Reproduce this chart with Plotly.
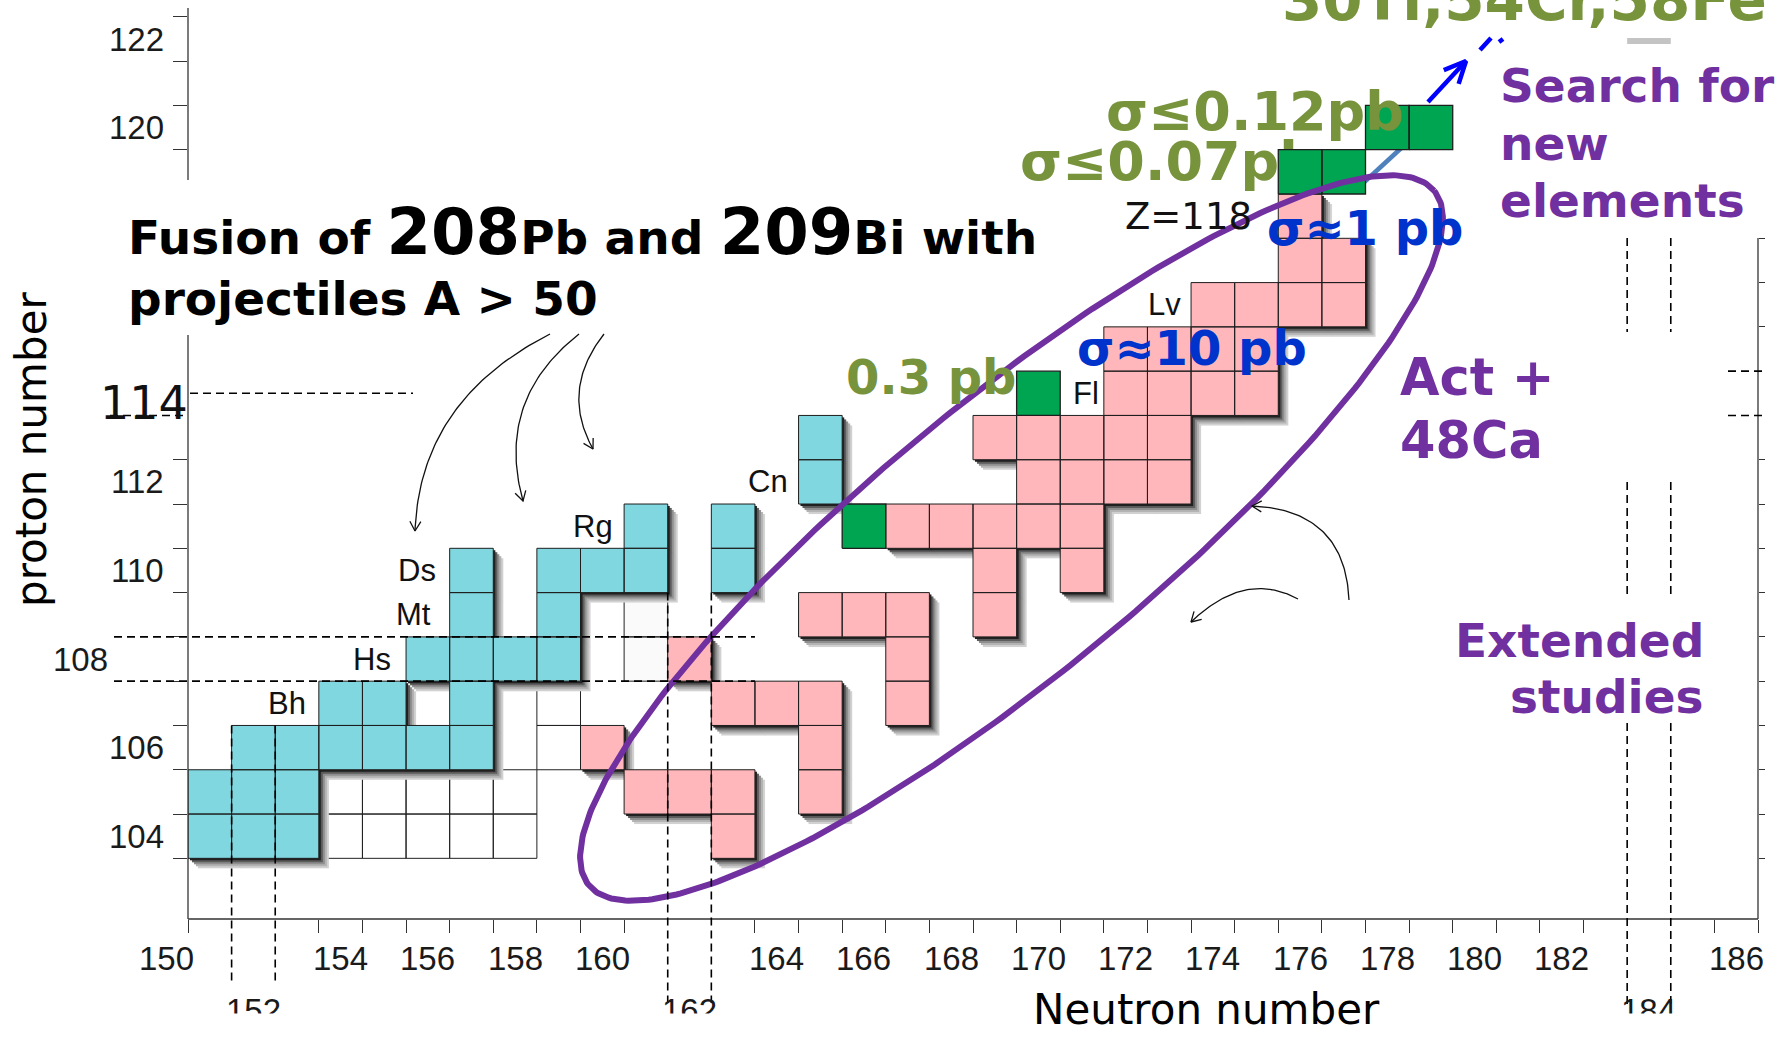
import math
import numpy as np
import plotly.graph_objects as go

# ---------------- data ----------------
# nuclides: (neutron number N, proton number Z)
cyan_N = [151, 152, 153, 151, 152, 153, 152, 153, 154, 155, 156, 157, 154, 155, 157,
          156, 157, 158, 159, 157, 159, 157, 159, 160, 161, 161, 163, 163, 165, 165]
cyan_Z = [104, 104, 104, 105, 105, 105, 106, 106, 106, 106, 106, 106, 107, 107, 107,
          108, 108, 108, 108, 109, 109, 110, 110, 110, 110, 111, 110, 111, 112, 113]

pink_N = [160, 161, 162, 163, 163, 162, 163, 164, 165, 165, 165, 165, 166, 167, 167, 167,
          167, 168, 169, 170, 171, 169, 171, 169, 169, 170, 171, 172, 173, 170, 171, 172, 173,
          172, 173, 174, 175, 172, 173, 174, 175, 174, 175, 176, 177, 176, 177, 176]
pink_Z = [106, 105, 105, 105, 104, 108, 107, 107, 107, 106, 105, 109, 109, 109, 108, 107,
          111, 111, 111, 111, 111, 110, 110, 109, 113, 113, 113, 113, 113, 112, 112, 112, 112,
          114, 114, 114, 114, 115, 115, 115, 115, 116, 116, 116, 116, 117, 117, 118]

green_N = [166, 170, 176, 177, 178, 179]
green_Z = [111, 114, 119, 119, 120, 120]

empty_N = [154, 155, 156, 157, 158, 154, 155, 156, 157, 158, 159, 159]
empty_Z = [104, 104, 104, 104, 104, 105, 105, 105, 105, 105, 106, 107]
faint_N = [161, 161]
faint_Z = [108, 109]

element_names = ["Bh", "Hs", "Mt", "Ds", "Rg", "Cn", "Fl", "Lv"]
element_Z = [107, 108, 109, 110, 111, 112, 114, 116]

x_tick_labels = [150, 154, 156, 158, 160, 164, 166, 168, 170, 172, 174, 176, 178, 180, 182, 186]
x_tick_labels_magic = [152, 162, 184]
y_tick_labels = [104, 106, 110, 112, 120, 122]
magic_N = [152, 162, 184]
magic_Z = [108, 114]

# ---------------- geometry ----------------
W, H = 1787, 1037
L, R, T, B = 188, 1758, 8, 919
x_range = [150.5, 186.5]
y_range = [102.13, 122.70]
UX = (x_range[1] - x_range[0]) / (R - L)
UY = (y_range[1] - y_range[0]) / (B - T)


def nx(p):
    return x_range[0] + (p - L) * UX


def zy(p):
    return y_range[0] + (B - p) * UY


def pxp(p):
    return (p - L) / (R - L)


def pyp(p):
    return (B - p) / (B - T)


def npap(n):
    return (n - x_range[0]) / (x_range[1] - x_range[0])


def zpap(z):
    return (z - y_range[0]) / (y_range[1] - y_range[0])


def cells(Ns, Zs, dpx=0.0):
    xs, ys = [], []
    for n, z in zip(Ns, Zs):
        x0 = n - 0.5 + dpx * UX
        x1 = n + 0.5 + dpx * UX
        y0 = z - 0.5 - dpx * UY
        y1 = z + 0.5 - dpx * UY
        xs += [x0, x1, x1, x0, x0, None]
        ys += [y0, y0, y1, y1, y0, None]
    return xs, ys


fig = go.Figure()


def add_cells(Ns, Zs, fill, line_color="#1e1e1e", lw=1.0, dpx=0.0):
    xs, ys = cells(Ns, Zs, dpx)
    fig.add_trace(go.Scatter(x=xs, y=ys, mode="lines", fill="toself", fillcolor=fill,
                             line=dict(color=line_color, width=lw), hoverinfo="skip",
                             showlegend=False))


# empty cells
add_cells(empty_N, empty_Z, "white", "#222222", 1.0)
add_cells(faint_N, faint_Z, "#FAFAFA", "#222222", 1.0)

# shadows for cyan & pink blocks
shadow_layers = [(10, "#D2D2D2"), (8, "#B4B4B4"), (6, "#909090"), (4, "#5E5E5E"), (2, "#222222")]
allN = cyan_N + pink_N
allZ = cyan_Z + pink_Z
for d, col in shadow_layers:
    add_cells(allN, allZ, col, col, 0.1, dpx=d)

olive = "#77933C"
purple = "#7030A0"
blue_txt = "#0033CC"

# text hidden partly behind the green cells
fig.add_trace(go.Scatter(x=[nx(1020)], y=[zy(166)], mode="text", text=["<b>σ≤0.07pb</b>"],
                         textposition="middle right",
                         textfont=dict(family="DejaVu Sans", size=54, color=olive),
                         hoverinfo="skip", showlegend=False))

# steel-blue line behind green cells
fig.add_trace(go.Scatter(x=[nx(1360), nx(1410)], y=[zy(186), zy(140)], mode="lines",
                         line=dict(color="#4F81BD", width=4.5), hoverinfo="skip", showlegend=False))

add_cells(cyan_N, cyan_Z, "#80D7DF", "#1e1e1e", 1.0)
add_cells(pink_N, pink_Z, "#FFB7BB", "#1e1e1e", 1.0)
add_cells(green_N, green_Z, "#00A551", "#1e1e1e", 1.3)

# ellipse (Act + 48Ca region)
t = np.linspace(0, 2 * np.pi, 400)
cx, cy, ea, eb, th = 1011.5, 538.0, 547.0, 136.0, math.radians(39.4)
ex = cx + ea * np.cos(t) * math.cos(th) - eb * np.sin(t) * math.sin(th)
ey = cy - (ea * np.cos(t) * math.sin(th) + eb * np.sin(t) * math.cos(th))
fig.add_trace(go.Scatter(x=[nx(v) for v in ex], y=[zy(v) for v in ey], mode="lines",
                         line=dict(color=purple, width=6), hoverinfo="skip", showlegend=False))


def bezier(p0, c, p2, n=60):
    tt = np.linspace(0, 1, n)
    bx = (1 - tt) ** 2 * p0[0] + 2 * tt * (1 - tt) * c[0] + tt ** 2 * p2[0]
    by = (1 - tt) ** 2 * p0[1] + 2 * tt * (1 - tt) * c[1] + tt ** 2 * p2[1]
    return list(bx), list(by)


def chevron(tip, frm, length=11, ang=28):
    dx, dy = frm[0] - tip[0], frm[1] - tip[1]
    nrm = math.hypot(dx, dy)
    ux, uy = dx / nrm, dy / nrm
    pts = []
    for s in (1, -1):
        a = math.radians(ang * s)
        rx = ux * math.cos(a) - uy * math.sin(a)
        ry = ux * math.sin(a) + uy * math.cos(a)
        pts.append((tip[0] + length * rx, tip[1] + length * ry))
    return [pts[0][0], tip[0], pts[1][0]], [pts[0][1], tip[1], pts[1][1]]


curves = [((550, 334), (420, 400), (415, 531)),
          ((579, 334), (495, 400), (523, 501)),
          ((604, 334), (560, 390), (593, 449)),
          ((1349, 600), (1345, 510), (1252, 506)),
          ((1298, 599), (1245, 570), (1191, 622))]
cxs, cys = [], []
for p0, c, p2 in curves:
    bx, by = bezier(p0, c, p2)
    cxs += bx + [None]
    cys += by + [None]
    hx, hy = chevron(p2, c, 11, 30)
    cxs += hx + [None]
    cys += hy + [None]
fig.add_trace(go.Scatter(x=[nx(v) if v is not None else None for v in cxs],
                         y=[zy(v) if v is not None else None for v in cys], mode="lines",
                         line=dict(color="#111111", width=1.3), hoverinfo="skip", showlegend=False))

# blue arrow towards new elements
bxs = [1428, 1466, None, 1480, 1491, None, 1499, 1503]
bys = [102, 61, None, 50, 38, None, 42, 39]
hx, hy = chevron((1466, 61), (1428, 102), 24, 25)
bxs += [None] + hx
bys += [None] + hy
fig.add_trace(go.Scatter(x=[nx(v) if v is not None else None for v in bxs],
                         y=[zy(v) if v is not None else None for v in bys], mode="lines",
                         line=dict(color="#0000FF", width=4.5), hoverinfo="skip", showlegend=False))

tick_font = dict(family="Liberation Sans, Arial, sans-serif", size=33, color="#1a1a1a")

# dummy trace for right axis
fig.add_trace(go.Scatter(x=[None], y=[None], yaxis="y2", showlegend=False, hoverinfo="skip"))

# ---------------- shapes (axis lines, magic-number lines) ----------------
shapes = []
axc = dict(color="#333333", width=1.3)
shapes.append(dict(type="line", xref="paper", yref="paper", x0=0, x1=1, y0=0, y1=0, line=axc))
shapes.append(dict(type="line", xref="paper", yref="paper", x0=0, x1=0, y0=0, y1=pyp(335), line=axc))
shapes.append(dict(type="line", xref="paper", yref="paper", x0=0, x1=0, y0=pyp(180), y1=1, line=axc))
shapes.append(dict(type="line", xref="paper", yref="paper", x0=1, x1=1, y0=0, y1=pyp(238), line=axc))

dash = dict(color="#000000", width=1.6, dash="8px,5px")
# Z = 108 shell lines
for zz in (magic_Z[0] - 0.5, magic_Z[0] + 0.5):
    shapes.append(dict(type="line", xref="paper", yref="paper", x0=pxp(114), x1=npap(163.5),
                       y0=zpap(zz), y1=zpap(zz), line=dash))
# Z = 114
shapes.append(dict(type="line", xref="paper", yref="paper", x0=pxp(190), x1=pxp(413),
                   y0=zpap(magic_Z[1]), y1=zpap(magic_Z[1]), line=dash))
shapes.append(dict(type="line", xref="paper", yref="paper", x0=pxp(110), x1=pxp(188),
                   y0=zpap(magic_Z[1] - 0.5), y1=zpap(magic_Z[1] - 0.5), line=dash))
for zz in (magic_Z[1] - 0.5, magic_Z[1] + 0.5):
    shapes.append(dict(type="line", xref="paper", yref="paper", x0=pxp(1728), x1=pxp(1762),
                       y0=zpap(zz), y1=zpap(zz), line=dash))
# N = 152, 162, 184
for nn in (magic_N[0] - 0.5, magic_N[0] + 0.5):
    shapes.append(dict(type="line", xref="paper", yref="paper", x0=npap(nn), x1=npap(nn),
                       y0=zpap(106.5), y1=pyp(983), line=dash))
for nn in (magic_N[1] - 0.5, magic_N[1] + 0.5):
    shapes.append(dict(type="line", xref="paper", yref="paper", x0=npap(nn), x1=npap(nn),
                       y0=zpap(109.5), y1=pyp(1003), line=dash))
for nn in (magic_N[2] - 0.5, magic_N[2] + 0.5):
    for a, b in ((238, 332), (482, 595), (723, 1009)):
        shapes.append(dict(type="line", xref="paper", yref="paper", x0=npap(nn), x1=npap(nn),
                           y0=pyp(a), y1=pyp(b), line=dash))
shapes.append(dict(type="rect", xref="paper", yref="paper", x0=npap(183.5), x1=npap(184.5),
                   y0=pyp(44), y1=pyp(38), fillcolor="#C4C4C4", line=dict(width=0)))

# ---------------- annotations ----------------
ann = []
for v in x_tick_labels:
    ann.append(dict(x=npap(v), y=pyp(959), xref="paper", yref="paper", text=str(v),
                    showarrow=False, xanchor="center", yanchor="middle", font=tick_font))
# lowered magic-number tick labels (lower half hidden by a white strip)
for v in x_tick_labels_magic:
    ann.append(dict(x=npap(v), y=pyp(1010), xref="paper", yref="paper", text=str(v),
                    showarrow=False, xanchor="center", yanchor="middle", font=tick_font))
ann.append(dict(x=pxp(0), y=pyp(1013), xref="paper", yref="paper", text=" ",
                showarrow=False, xanchor="left", yanchor="top", width=W, height=30,
                bgcolor="white", borderpad=0, font=dict(size=10)))
for v in y_tick_labels:
    ann.append(dict(x=pxp(166), y=v, xref="paper", yref="y", text=str(v), showarrow=False,
                    xanchor="right", yanchor="middle", font=tick_font))
ann.append(dict(x=pxp(110), y=magic_Z[0], xref="paper", yref="y", text=str(magic_Z[0]),
                showarrow=False, xanchor="right", yanchor="middle", font=tick_font))
ann.append(dict(x=pxp(190), y=pyp(403), xref="paper", yref="paper", text=str(magic_Z[1]),
                showarrow=False, xanchor="right", yanchor="middle",
                font=dict(family="DejaVu Sans", size=46, color="#111111")))

el_font = dict(family="Liberation Sans, Arial, sans-serif", size=31, color="#111111")
el_anchor_px = [308, 393, 433, 438, 615, 790, 1071, 1183]
for name, z, p in zip(element_names, element_Z, el_anchor_px):
    ann.append(dict(x=nx(p), y=z, xref="x", yref="y", text=name, showarrow=False,
                    xanchor="left" if name == "Fl" else "right", yanchor="middle", font=el_font))
ann.append(dict(x=nx(1254), y=118, xref="x", yref="y", text="Z=118", showarrow=False,
                xanchor="right", yanchor="middle",
                font=dict(family="DejaVu Sans", size=37, color="#111111")))


def btext(text, xpx, baseline, size, color, xanchor="left"):
    ann.append(dict(x=pxp(xpx), y=pyp(baseline - 0.346 * size), xref="paper", yref="paper",
                    text="<b>" + text + "</b>", showarrow=False, xanchor=xanchor,
                    yanchor="middle", font=dict(family="DejaVu Sans", size=size, color=color)))


btext("σ≤0.12pb", 1104, 130, 54, olive)
btext("0.3 pb", 844, 394, 48, olive)
btext("σ≈10 pb", 1075, 365, 48, blue_txt)
btext("σ≈1 pb", 1265, 245, 48, blue_txt)
btext("30Ti,54Cr,58Fe", 1280, 20, 58, olive)
btext("Search for", 1498, 102, 47, purple)
btext("new", 1498, 160, 47, purple)
btext("elements", 1498, 217, 47, purple)
btext("Act +", 1398, 395, 51, purple)
btext("48Ca", 1398, 458, 51, purple)
btext("Extended", 1706, 657, 47, purple, "right")
btext("studies", 1706, 713, 47, purple, "right")
btext("projectiles A > 50", 126, 315, 47, "#000000")
ann.append(dict(x=pxp(126), y=pyp(255 + 0.236 * 64 + 1), xref="paper", yref="paper",
                text="<b>Fusion of <span style='font-size:64px'>208</span>Pb and "
                     "<span style='font-size:64px'>209</span>Bi with</b>",
                showarrow=False, xanchor="left", yanchor="bottom",
                font=dict(family="DejaVu Sans", size=47, color="#000000")))

ann.append(dict(x=pxp(1206), y=pyp(1024 - 0.346 * 42), xref="paper", yref="paper",
                text="Neutron number", showarrow=False, xanchor="center", yanchor="middle",
                font=dict(family="DejaVu Sans", size=42, color="#000000")))
ann.append(dict(x=pxp(31), y=pyp(450), xref="paper", yref="paper", text="proton number",
                showarrow=False, xanchor="center", yanchor="middle", textangle=-90,
                font=dict(family="DejaVu Sans", size=42, color="#000000")))

# ---------------- axes ----------------
skip_x = {151.5, 152.5, 161.5, 162.5, 183.5, 184.5}
x_ticks = [v + 0.5 for v in range(150, 187) if (v + 0.5) not in skip_x]
y_ticks_left = [v + 0.5 for v in range(103, 113)] + [119.5, 120.5, 121.5, 122.5]
y_ticks_right = [v + 0.5 for v in range(103, 113)] + [115.5, 116.5, 117.5]

fig.update_layout(
    width=W, height=H,
    margin=dict(l=L, r=W - R, t=T, b=H - B, pad=0),
    paper_bgcolor="white", plot_bgcolor="white",
    showlegend=False,
    xaxis=dict(range=x_range, showgrid=False, zeroline=False, showline=False,
               tickvals=x_ticks, ticks="outside", ticklen=13, tickwidth=1.2,
               tickcolor="#333333", showticklabels=False, fixedrange=True),
    yaxis=dict(range=y_range, showgrid=False, zeroline=False, showline=False,
               tickvals=y_ticks_left, ticks="outside", ticklen=14, tickwidth=1.2,
               tickcolor="#333333", showticklabels=False, fixedrange=True),
    yaxis2=dict(range=y_range, overlaying="y", side="right", showgrid=False, zeroline=False,
                showline=False, tickvals=y_ticks_right, ticks="outside", ticklen=6,
                tickwidth=1.2, tickcolor="#333333", showticklabels=False, fixedrange=True),
    shapes=shapes,
    annotations=ann,
)

fig.write_html("out.html", config={"displayModeBar": False},
               post_script="document.body.style.margin='0px';")
